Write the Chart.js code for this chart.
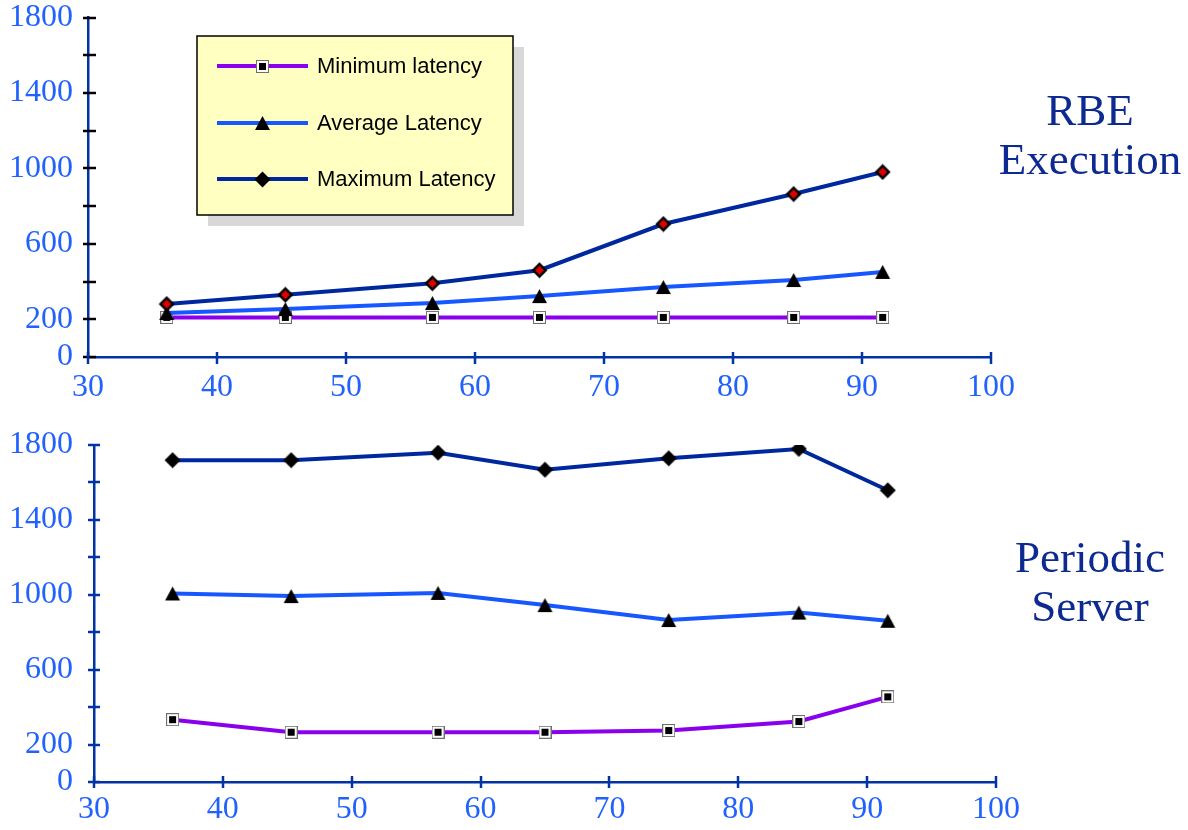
<!DOCTYPE html>
<html>
<head>
<meta charset="utf-8">
<script src="https://cdn.jsdelivr.net/npm/chart.js@4/dist/chart.umd.min.js"></script>
<style>
  html, body { margin: 0; padding: 0; background: #fff; }
  #page { position: relative; width: 1188px; height: 830px; overflow: hidden; }
  .panel { position: absolute; left: 0; width: 1188px; height: 415px; }
  .side-title {
    position: absolute; width: 230px; text-align: center;
    font-family: 'Liberation Serif', 'Times New Roman', serif;
    font-size: 45px; line-height: 49px; color: #0D2A90;
  }
</style>
</head>
<body>
<div id="page">
  <div class="panel" style="top:0"><canvas id="rbe" width="1188" height="415"></canvas></div>
  <div class="panel" style="top:415px"><canvas id="ps" width="1188" height="415"></canvas></div>
  <div class="side-title" style="left:975px; top:86px;">RBE<br>Execution</div>
  <div class="side-title" style="left:975px; top:533px;">Periodic<br>Server</div>
</div>
<script>
// Utilisation (%) at which each run was measured
const utilisation = [36.1, 45.3, 56.7, 65.0, 74.6, 84.7, 91.6];

// RBE execution latencies
const rbeMin = [210, 210, 210, 210, 210, 210, 210];
const rbeAvg = [233, 254, 286, 323, 371, 408, 451];
const rbeMax = [281, 330, 391, 460, 705, 864, 981];

// Periodic server latencies
const psMin = [333, 266, 266, 266, 275, 323, 455];
const psAvg = [1007, 993, 1010, 945, 865, 905, 861];
const psMax = [1719, 1719, 1759, 1668, 1729, 1779, 1558];

const seriesLabels = ['Minimum latency', 'Average Latency', 'Maximum Latency'];
const yLabelled = [0, 200, 600, 1000, 1400, 1800];

const COL_MIN = '#8A00EC';
const COL_AVG = '#1657FF';
const COL_MAX = '#00289E';
const COL_AXIS = '#0033A3';
const COL_TICKTEXT = '#2162FF';
const TICK_FONT = { family: '"Liberation Serif", "Times New Roman", serif', size: 32 };

// ---- marker images ----
function squareMarker() {
  const c = document.createElement('canvas'); c.width = 13; c.height = 13;
  const g = c.getContext('2d');
  g.fillStyle = '#ffffff'; g.fillRect(0, 0, 13, 13);
  g.strokeStyle = '#6e6e6e'; g.lineWidth = 1; g.strokeRect(0.5, 0.5, 12, 12);
  g.fillStyle = '#000'; g.fillRect(3, 3, 7, 7);
  return c;
}
function triangleMarker() {
  const c = document.createElement('canvas'); c.width = 17; c.height = 16;
  const g = c.getContext('2d');
  g.fillStyle = '#000';
  g.beginPath(); g.moveTo(8.5, 1); g.lineTo(16, 15); g.lineTo(1, 15); g.closePath(); g.fill();
  return c;
}
function diamondMarker(inner) {
  const c = document.createElement('canvas'); c.width = 17; c.height = 17;
  const g = c.getContext('2d');
  g.fillStyle = '#000';
  g.beginPath(); g.moveTo(8.5, 0.5); g.lineTo(16.5, 8.5); g.lineTo(8.5, 16.5); g.lineTo(0.5, 8.5); g.closePath(); g.fill();
  if (inner) {
    g.fillStyle = inner;
    g.beginPath(); g.moveTo(8.5, 4); g.lineTo(13, 8.5); g.lineTo(8.5, 13); g.lineTo(4, 8.5); g.closePath(); g.fill();
  }
  return c;
}
const mkSquare = squareMarker();
const mkTri = triangleMarker();
const mkDiaRed = diamondMarker('#E00000');
const mkDia = diamondMarker(null);

function points(ys) { return utilisation.map((x, i) => ({ x: x, y: ys[i] })); }

function dataset(label, ys, color, marker, order) {
  return {
    label: label, data: points(ys), borderColor: color, backgroundColor: color,
    borderWidth: 4, tension: 0, pointStyle: marker, pointRadius: 8,
    pointHoverRadius: 8, order: order, fill: false
  };
}

// Ticks that straddle the axis lines
const crossTicks = {
  id: 'crossTicks',
  afterDraw(chart, args, o) {
    const { ctx, chartArea: a } = chart;
    const xs = chart.scales.x, ys = chart.scales.y;
    ctx.save();
    ctx.lineWidth = 2.5;
    ctx.strokeStyle = o.yColor;
    ys.ticks.forEach(t => {
      const p = Math.round(ys.getPixelForValue(t.value));
      ctx.beginPath(); ctx.moveTo(a.left - o.yOut, p); ctx.lineTo(a.left + o.yIn, p); ctx.stroke();
    });
    ctx.strokeStyle = o.xColor;
    xs.ticks.forEach(t => {
      const p = Math.round(xs.getPixelForValue(t.value));
      ctx.beginPath(); ctx.moveTo(p, a.bottom - o.xIn); ctx.lineTo(p, a.bottom + o.xOut); ctx.stroke();
    });
    ctx.restore();
  }
};

// Boxed legend with drop shadow
const boxLegend = {
  id: 'boxLegend',
  afterDraw(chart, args, o) {
    if (!o.show) return;
    const ctx = chart.ctx;
    const L = 197, T = 36, W = 316, H = 179;
    ctx.save();
    ctx.fillStyle = '#D8D8D8';
    ctx.fillRect(L + 11, T + 11, W, H);
    ctx.fillStyle = '#FFFFC2';
    ctx.fillRect(L, T, W, H);
    ctx.strokeStyle = '#000'; ctx.lineWidth = 1.5;
    ctx.strokeRect(L, T, W, H);
    const rows = [66, 123, 179];
    chart.data.datasets.forEach((ds, i) => {
      const y = rows[i];
      ctx.strokeStyle = ds.borderColor; ctx.lineWidth = 4;
      ctx.beginPath(); ctx.moveTo(217, y); ctx.lineTo(308, y); ctx.stroke();
      const m = o.markers[i];
      ctx.drawImage(m, Math.round(262 - m.width / 2), Math.round(y - m.height / 2));
      ctx.fillStyle = '#000';
      ctx.font = '22px "Liberation Sans", Arial, sans-serif';
      ctx.textBaseline = 'middle';
      ctx.fillText(ds.label, 317, y + 1);
    });
    ctx.restore();
  }
};

function makeChart(id, mins, avgs, maxs, maxMarker, geo) {
  return new Chart(document.getElementById(id), {
    type: 'line',
    data: {
      datasets: [
        dataset(seriesLabels[0], mins, COL_MIN, mkSquare, 3),
        dataset(seriesLabels[1], avgs, COL_AVG, mkTri, 2),
        dataset(seriesLabels[2], maxs, COL_MAX, maxMarker, 1)
      ]
    },
    options: {
      responsive: false,
      animation: false,
      events: [],
      layout: { padding: { left: 0, top: geo.top, right: geo.right, bottom: geo.bottom } },
      plugins: {
        legend: { display: false },
        tooltip: { enabled: false },
        crossTicks: geo.ticks,
        boxLegend: { show: geo.legend, markers: [mkSquare, mkTri, mkDia] }
      },
      scales: {
        x: {
          type: 'linear', min: 30, max: 100,
          grid: { display: false, drawTicks: false },
          border: { display: true, color: COL_AXIS, width: 2.5 },
          ticks: {
            stepSize: 10, padding: geo.xPad, color: COL_TICKTEXT, maxRotation: 0,
            font: TICK_FONT
          },
          afterFit: s => { s.height = geo.xH; s.paddingLeft = 0; s.paddingRight = 0; }
        },
        y: {
          type: 'linear', min: 0, max: 1800,
          grid: { display: false, drawTicks: false },
          border: { display: true, color: COL_AXIS, width: 2.5 },
          ticks: {
            stepSize: 200, padding: geo.yPad, color: COL_TICKTEXT, autoSkip: false,
            font: TICK_FONT,
            callback: v => (yLabelled.includes(v) ? String(v) : '')
          },
          afterFit: s => { s.width = geo.yW; s.paddingTop = 0; s.paddingBottom = 0; }
        }
      }
    },
    plugins: [crossTicks, boxLegend]
  });
}

makeChart('rbe', rbeMin, rbeAvg, rbeMax, mkDiaRed, {
  top: 17.5, right: 197, bottom: 8, xH: 50, yW: 88, xPad: 11, yPad: 15, legend: true,
  ticks: { yColor: '#000', yOut: 5, yIn: 8, xColor: COL_AXIS, xIn: 5, xOut: 7 }
});

makeChart('ps', psMin, psAvg, psMax, mkDia, {
  top: 30, right: 192, bottom: 8, xH: 40, yW: 94, xPad: 8, yPad: 21, legend: false,
  ticks: { yColor: COL_AXIS, yOut: 6, yIn: 6, xColor: COL_AXIS, xIn: 6, xOut: 6 }
});
</script>
</body>
</html>
